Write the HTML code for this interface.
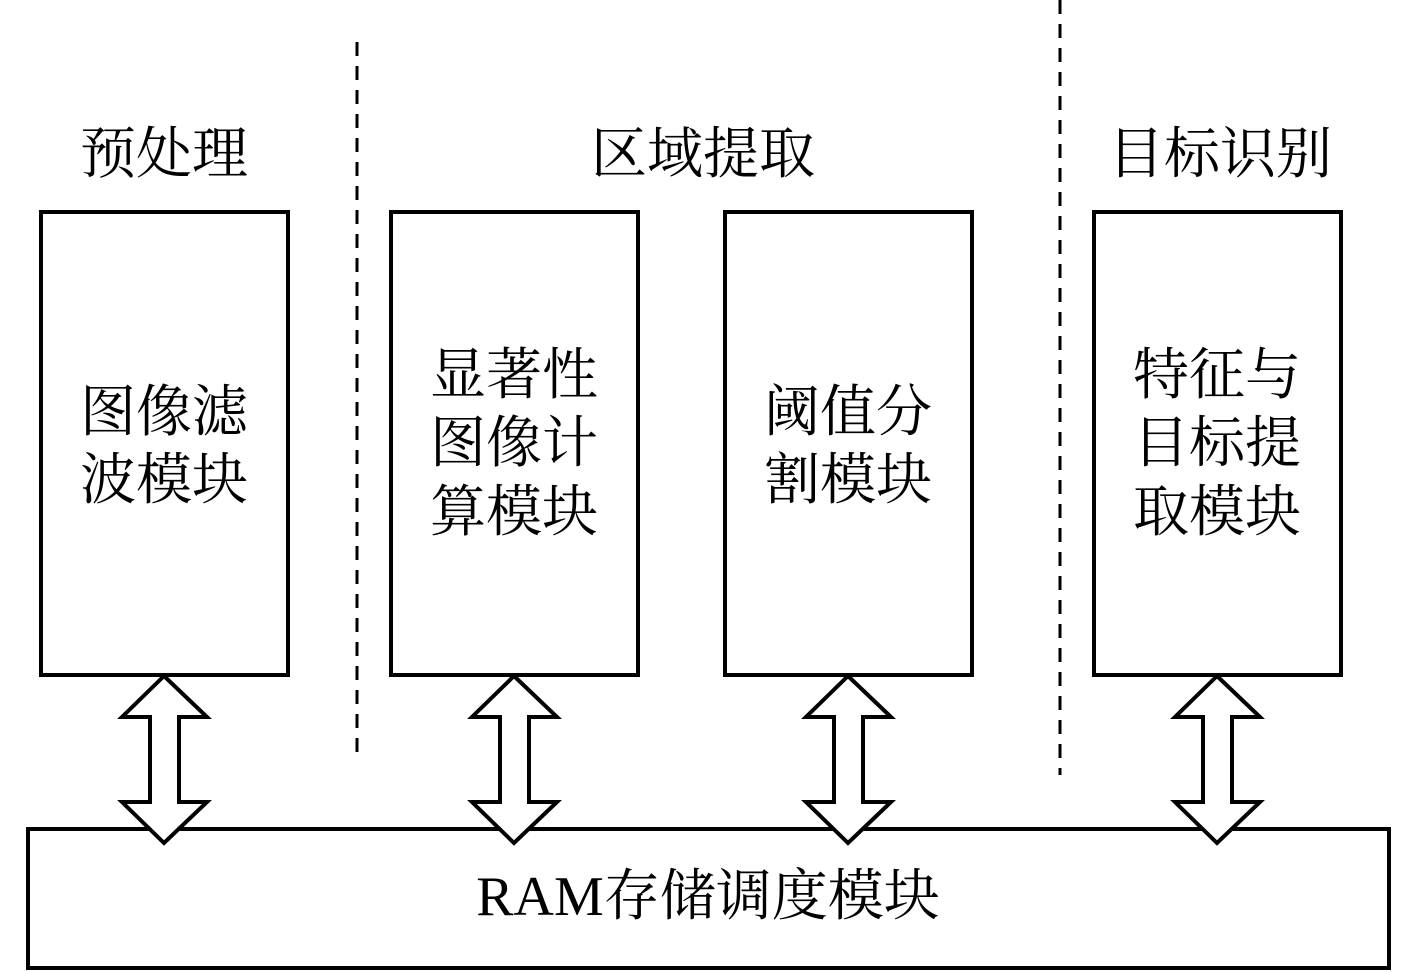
<!DOCTYPE html>
<html><head><meta charset="utf-8"><style>
body{margin:0;background:#fff;}
svg{display:block}
text{font-family:"Liberation Serif","Noto Serif CJK SC",serif;font-size:56px;fill:#000;text-anchor:middle;dominant-baseline:central}
</style></head><body>
<svg width="1417" height="972" viewBox="0 0 1417 972">
<g fill="none" stroke="#000" stroke-width="4">
<rect x="41" y="212" width="247" height="463"/>
<rect x="391" y="212" width="247" height="463"/>
<rect x="725" y="212" width="247" height="463"/>
<rect x="1094" y="212" width="247" height="463"/>
<rect x="28" y="829" width="1361" height="139"/>
<line x1="357" y1="42" x2="357" y2="762" stroke-width="3" stroke-dasharray="14,10"/>
<line x1="1060" y1="0" x2="1060" y2="775" stroke-width="3" stroke-dasharray="14,10"/>
</g>
<g fill="#fff" stroke="#000" stroke-width="4" stroke-linejoin="miter">
<path id="a" d="M164 676 L207 717 L179 717 L179 802 L207 802 L164 843 L122 802 L150 802 L150 717 L122 717 Z"/>
<use href="#a" x="350"/>
<use href="#a" x="684"/>
<use href="#a" x="1053"/>
</g>
<text x="164" y="155">预处理</text>
<text x="703" y="155">区域提取</text>
<text x="1220" y="155">目标识别</text>
<text x="164" y="413">图像滤</text>
<text x="164" y="481">波模块</text>
<text x="514" y="376">显著性</text>
<text x="514" y="444">图像计</text>
<text x="514" y="513">算模块</text>
<text x="848" y="413">阈值分</text>
<text x="848" y="481">割模块</text>
<text x="1217" y="376">特征与</text>
<text x="1217" y="444">目标提</text>
<text x="1217" y="513">取模块</text>
<text x="708" y="897">RAM存储调度模块</text>
</svg>
</body></html>
